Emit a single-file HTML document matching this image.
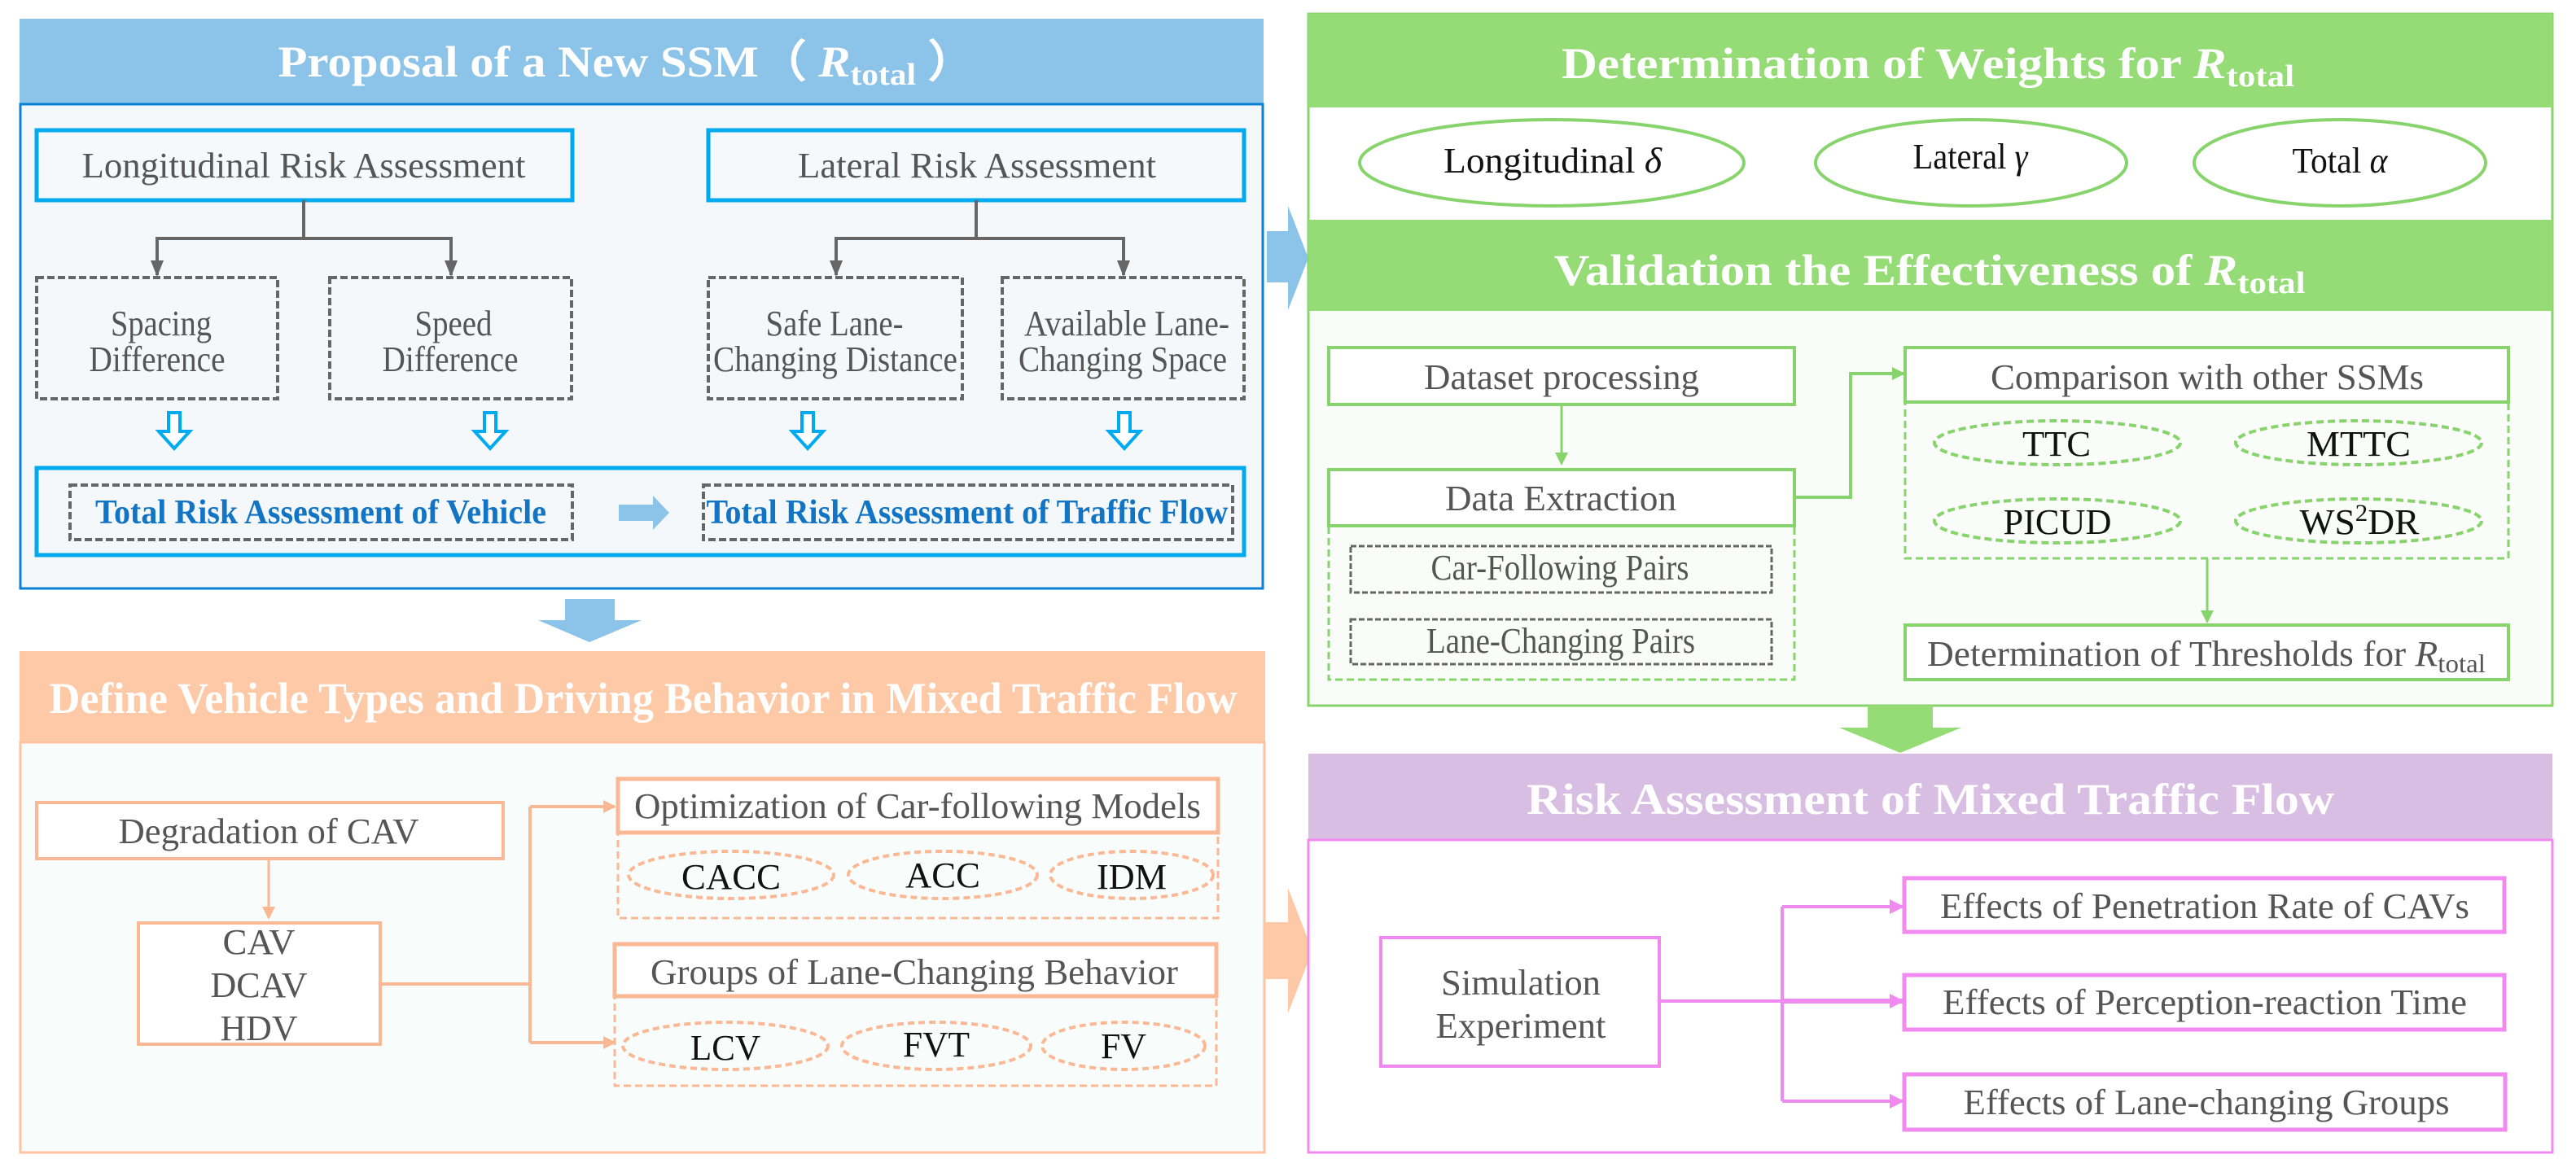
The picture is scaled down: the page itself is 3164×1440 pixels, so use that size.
<!DOCTYPE html>
<html><head><meta charset="utf-8"><style>
html,body{margin:0;padding:0;background:#fff;}
svg{display:block;}
text{font-family:"Liberation Serif",serif;}
.g{fill:#555;font-size:44px;}
.t{fill:#fff;font-size:54px;font-weight:bold;}
.k{fill:#111;font-size:44px;}
</style></head><body>
<svg width="3164" height="1440" viewBox="0 0 3164 1440" xmlns="http://www.w3.org/2000/svg">
<defs>
<marker id="ag" markerWidth="20" markerHeight="20" refX="18" refY="10" orient="auto" markerUnits="userSpaceOnUse"><path d="M0,2 L20,10 L0,18 z" fill="#666"/></marker>
<marker id="agr" markerWidth="16" markerHeight="16" refX="14" refY="8" orient="auto" markerUnits="userSpaceOnUse"><path d="M0,0 L16,8 L0,16 z" fill="#88d46c"/></marker>
<marker id="aor" markerWidth="16" markerHeight="16" refX="14" refY="8" orient="auto" markerUnits="userSpaceOnUse"><path d="M0,0 L16,8 L0,16 z" fill="#fbb895"/></marker>
<marker id="apu" markerWidth="18" markerHeight="18" refX="16" refY="9" orient="auto" markerUnits="userSpaceOnUse"><path d="M0,0 L18,9 L0,18 z" fill="#f08af0"/></marker>
</defs>

<rect x="24" y="23" width="1528" height="104" fill="#8cc3e8"/>
<text class="t" x="770" y="94" text-anchor="middle" textLength="857" lengthAdjust="spacingAndGlyphs">Proposal of a New SSM（ <tspan font-style="italic">R</tspan><tspan font-size="38" dy="10">total</tspan><tspan dy="-10"> ）</tspan></text>
<rect x="25" y="128" width="1526" height="595" fill="#f4f8fb" stroke="#0a82d4" stroke-width="3"/>
<rect x="45" y="160" width="658" height="86" fill="#f6f9fc" stroke="#00aaef" stroke-width="5"/>
<text class="g" x="373" y="218" text-anchor="middle" textLength="545" lengthAdjust="spacingAndGlyphs">Longitudinal Risk Assessment</text>
<rect x="870" y="160" width="658" height="86" fill="#f6f9fc" stroke="#00aaef" stroke-width="5"/>
<text class="g" x="1200" y="218" text-anchor="middle" textLength="440" lengthAdjust="spacingAndGlyphs">Lateral Risk Assessment</text>
<g stroke="#666" stroke-width="4" fill="none">
<path d="M373 246 V293 M191 293 H556 M1199 246 V293 M1025 293 H1382"/>
<path d="M193 293 V338" marker-end="url(#ag)"/><path d="M554 293 V338" marker-end="url(#ag)"/>
<path d="M1027 293 V338" marker-end="url(#ag)"/><path d="M1380 293 V338" marker-end="url(#ag)"/>
</g>
<g fill="none" stroke="#666" stroke-width="4" stroke-dasharray="9,4">
<rect x="45" y="341" width="296" height="149"/><rect x="405" y="341" width="297" height="149"/>
<rect x="870" y="341" width="312" height="149"/><rect x="1231" y="341" width="297" height="149"/>
<rect x="86" y="596" width="617" height="67"/><rect x="864" y="596" width="650" height="67"/>
</g>
<text class="g" x="198" y="412" text-anchor="middle" textLength="124" lengthAdjust="spacingAndGlyphs">Spacing</text>
<text class="g" x="193" y="456" text-anchor="middle" textLength="167" lengthAdjust="spacingAndGlyphs">Difference</text>
<text class="g" x="557" y="412" text-anchor="middle" textLength="95" lengthAdjust="spacingAndGlyphs">Speed</text>
<text class="g" x="553" y="456" text-anchor="middle" textLength="167" lengthAdjust="spacingAndGlyphs">Difference</text>
<text class="g" x="1025" y="412" text-anchor="middle" textLength="169" lengthAdjust="spacingAndGlyphs">Safe Lane-</text>
<text class="g" x="1026" y="456" text-anchor="middle" textLength="300" lengthAdjust="spacingAndGlyphs">Changing Distance</text>
<text class="g" x="1384" y="412" text-anchor="middle" textLength="252" lengthAdjust="spacingAndGlyphs">Available Lane-</text>
<text class="g" x="1379" y="456" text-anchor="middle" textLength="256" lengthAdjust="spacingAndGlyphs">Changing Space</text>
<g fill="#fff" stroke="#00aaef" stroke-width="4">
<path d="M207 507 H221 V530 H233 L214 551 L195 530 H207 Z"/>
<path d="M595 507 H609 V530 H621 L602 551 L583 530 H595 Z"/>
<path d="M985 507 H999 V530 H1011 L992 551 L973 530 H985 Z"/>
<path d="M1374 507 H1388 V530 H1400 L1381 551 L1362 530 H1374 Z"/>
</g>
<rect x="45" y="575" width="1483" height="107" fill="none" stroke="#00aaef" stroke-width="5"/>
<text x="394" y="643" text-anchor="middle" textLength="554" lengthAdjust="spacingAndGlyphs" font-size="42" font-weight="bold" fill="#1274c4">Total Risk Assessment of Vehicle</text>
<text x="1188" y="643" text-anchor="middle" textLength="641" lengthAdjust="spacingAndGlyphs" font-size="42" font-weight="bold" fill="#1274c4">Total Risk Assessment of Traffic Flow</text>
<path d="M760 620 H802 V609 L822 630 L802 651 V640 H760 Z" fill="#8cc3e8"/>
<path d="M694 736 H755 V762 H788 L724 789 L661 762 H694 Z" fill="#8cc3e8"/>
<path d="M1556 284 H1582 V253 L1607 317 L1582 381 V347 H1556 Z" fill="#8cc3e8"/>

<rect x="24" y="800" width="1530" height="112" fill="#fdc9a7"/>
<text class="t" x="790" y="876" text-anchor="middle" textLength="1459" lengthAdjust="spacingAndGlyphs">Define Vehicle Types and Driving Behavior in Mixed Traffic Flow</text>
<rect x="25" y="912" width="1528" height="504" fill="#f8fcfa" stroke="#fdc3a0" stroke-width="3"/>
<rect x="45" y="986" width="573" height="69" fill="#fff" stroke="#fbb895" stroke-width="4"/>
<text class="g" x="330" y="1036" text-anchor="middle" textLength="369" lengthAdjust="spacingAndGlyphs">Degradation of CAV</text>
<path d="M330 1055 V1128" stroke="#fbb895" stroke-width="3" fill="none" marker-end="url(#aor)"/>
<rect x="170" y="1134" width="297" height="149" fill="#fff" stroke="#fbb895" stroke-width="4"/>
<text class="g" x="318" y="1172" text-anchor="middle" textLength="89" lengthAdjust="spacingAndGlyphs">CAV</text>
<text class="g" x="318" y="1225" text-anchor="middle" textLength="119" lengthAdjust="spacingAndGlyphs">DCAV</text>
<text class="g" x="318" y="1278" text-anchor="middle" textLength="95" lengthAdjust="spacingAndGlyphs">HDV</text>
<g stroke="#fbb895" stroke-width="4" fill="none">
<path d="M467 1209 H651 M651 991 V1281"/>
<path d="M651 991 H755" marker-end="url(#aor)"/>
<path d="M651 1281 H755" marker-end="url(#aor)"/>
</g>
<rect x="759" y="957" width="737" height="66" fill="#fff" stroke="#fbb895" stroke-width="5"/>
<text class="g" x="1127" y="1005" text-anchor="middle" textLength="696" lengthAdjust="spacingAndGlyphs">Optimization of Car-following Models</text>
<rect x="759" y="1023" width="737" height="105" fill="none" stroke="#fbb895" stroke-width="3" stroke-dasharray="9,5"/>
<rect x="755" y="1160" width="739" height="64" fill="#fff" stroke="#fbb895" stroke-width="5"/>
<text class="g" x="1123" y="1209" text-anchor="middle" textLength="648" lengthAdjust="spacingAndGlyphs">Groups of Lane-Changing Behavior</text>
<rect x="755" y="1224" width="739" height="110" fill="none" stroke="#fbb895" stroke-width="3" stroke-dasharray="9,5"/>
<g fill="none" stroke="#fbb895" stroke-width="4" stroke-dasharray="8,5">
<ellipse cx="898" cy="1075" rx="126" ry="29"/><ellipse cx="1158" cy="1075" rx="116" ry="29"/><ellipse cx="1390" cy="1075" rx="100" ry="29"/>
<ellipse cx="891" cy="1285" rx="126" ry="29"/><ellipse cx="1150" cy="1285" rx="116" ry="29"/><ellipse cx="1380" cy="1285" rx="100" ry="29"/>
</g>
<text class="k" x="898" y="1092" text-anchor="middle" textLength="122" lengthAdjust="spacingAndGlyphs">CACC</text>
<text class="k" x="1158" y="1090" text-anchor="middle" textLength="92" lengthAdjust="spacingAndGlyphs">ACC</text>
<text class="k" x="1390" y="1092" text-anchor="middle" textLength="86" lengthAdjust="spacingAndGlyphs">IDM</text>
<text class="k" x="891" y="1302" text-anchor="middle" textLength="86" lengthAdjust="spacingAndGlyphs">LCV</text>
<text class="k" x="1150" y="1298" text-anchor="middle" textLength="82" lengthAdjust="spacingAndGlyphs">FVT</text>
<text class="k" x="1380" y="1300" text-anchor="middle" textLength="56" lengthAdjust="spacingAndGlyphs">FV</text>
<path d="M1553 1133 H1582 V1091 L1612 1168 L1582 1245 V1203 H1553 Z" fill="#fdc9a7"/>

<rect x="1607" y="17" width="1528" height="850" fill="#f9fcf8" stroke="#88d46c" stroke-width="3"/>
<rect x="1607" y="17" width="1528" height="115" fill="#95dc77"/>
<text class="t" x="2368" y="96" text-anchor="middle" textLength="900" lengthAdjust="spacingAndGlyphs">Determination of Weights for <tspan font-style="italic">R</tspan><tspan font-size="38" dy="10">total</tspan></text>
<rect x="1609" y="132" width="1524" height="138" fill="#fff"/>
<g fill="#fff" stroke="#88d46c" stroke-width="4">
<ellipse cx="1906" cy="200" rx="236" ry="53"/><ellipse cx="2421" cy="200" rx="191" ry="53"/><ellipse cx="2874" cy="200" rx="179" ry="53"/>
</g>
<text class="k" x="1907" y="212" text-anchor="middle" textLength="268" lengthAdjust="spacingAndGlyphs">Longitudinal <tspan font-style="italic">δ</tspan></text>
<text class="k" x="2420" y="207" text-anchor="middle" textLength="141" lengthAdjust="spacingAndGlyphs">Lateral <tspan font-style="italic">γ</tspan></text>
<text class="k" x="2874" y="212" text-anchor="middle" textLength="117" lengthAdjust="spacingAndGlyphs">Total <tspan font-style="italic">α</tspan></text>
<rect x="1607" y="270" width="1528" height="112" fill="#95dc77"/>
<text class="t" x="2370" y="350" text-anchor="middle" textLength="923" lengthAdjust="spacingAndGlyphs">Validation the Effectiveness of <tspan font-style="italic">R</tspan><tspan font-size="38" dy="10">total</tspan></text>
<rect x="1632" y="427" width="572" height="70" fill="#fff" stroke="#88d46c" stroke-width="4"/>
<text class="g" x="1918" y="478" text-anchor="middle" textLength="338" lengthAdjust="spacingAndGlyphs">Dataset processing</text>
<path d="M1918 497 V570" stroke="#88d46c" stroke-width="3" fill="none" marker-end="url(#agr)"/>
<rect x="1632" y="577" width="572" height="69" fill="#fff" stroke="#88d46c" stroke-width="4"/>
<text class="g" x="1917" y="627" text-anchor="middle" textLength="284" lengthAdjust="spacingAndGlyphs">Data Extraction</text>
<rect x="1632" y="646" width="572" height="189" fill="none" stroke="#88d46c" stroke-width="3" stroke-dasharray="9,5"/>
<g fill="none" stroke="#666" stroke-width="3" stroke-dasharray="7,3">
<rect x="1659" y="671" width="517" height="57"/><rect x="1659" y="761" width="517" height="55"/>
</g>
<text class="g" x="1916" y="712" text-anchor="middle" textLength="317" lengthAdjust="spacingAndGlyphs" font-size="38">Car-Following Pairs</text>
<text class="g" x="1917" y="802" text-anchor="middle" textLength="330" lengthAdjust="spacingAndGlyphs" font-size="38">Lane-Changing Pairs</text>
<path d="M2204 611 H2273 V459 H2338" stroke="#88d46c" stroke-width="4" fill="none" marker-end="url(#agr)"/>
<rect x="2340" y="427" width="741" height="67" fill="#fff" stroke="#88d46c" stroke-width="4"/>
<text class="g" x="2711" y="478" text-anchor="middle" textLength="532" lengthAdjust="spacingAndGlyphs">Comparison with other SSMs</text>
<rect x="2340" y="494" width="741" height="192" fill="none" stroke="#88d46c" stroke-width="3" stroke-dasharray="9,5"/>
<g fill="none" stroke="#88d46c" stroke-width="4" stroke-dasharray="9,5">
<ellipse cx="2527" cy="544" rx="151" ry="27"/><ellipse cx="2897" cy="544" rx="151" ry="27"/>
<ellipse cx="2527" cy="640" rx="151" ry="27"/><ellipse cx="2897" cy="640" rx="151" ry="27"/>
</g>
<text class="k" x="2526" y="560" text-anchor="middle" textLength="84" lengthAdjust="spacingAndGlyphs">TTC</text>
<text class="k" x="2897" y="560" text-anchor="middle" textLength="128" lengthAdjust="spacingAndGlyphs">MTTC</text>
<text class="k" x="2527" y="656" text-anchor="middle" textLength="133" lengthAdjust="spacingAndGlyphs">PICUD</text>
<text class="k" x="2898" y="656" text-anchor="middle" textLength="147" lengthAdjust="spacingAndGlyphs">WS<tspan font-size="30" dy="-16">2</tspan><tspan dy="16">DR</tspan></text>
<path d="M2711 686 V764" stroke="#88d46c" stroke-width="3" fill="none" marker-end="url(#agr)"/>
<rect x="2340" y="768" width="741" height="67" fill="#fff" stroke="#88d46c" stroke-width="4"/>
<text class="g" x="2710" y="818" text-anchor="middle" textLength="686" lengthAdjust="spacingAndGlyphs">Determination of Thresholds for <tspan font-style="italic">R</tspan><tspan font-size="32" dy="8">total</tspan></text>
<path d="M2294 867 H2374 V894 H2409 L2334 925 L2259 894 H2294 Z" fill="#95dc77"/>

<rect x="1607" y="926" width="1528" height="106" fill="#d8bee2"/>
<text class="t" x="2371" y="1000" text-anchor="middle" textLength="992" lengthAdjust="spacingAndGlyphs">Risk Assessment of Mixed Traffic Flow</text>
<rect x="1607" y="1032" width="1528" height="384" fill="#fff" stroke="#f08af0" stroke-width="3"/>
<rect x="1696" y="1152" width="342" height="158" fill="#fff" stroke="#f08af0" stroke-width="4"/>
<text class="g" x="1868" y="1222" text-anchor="middle" textLength="196" lengthAdjust="spacingAndGlyphs">Simulation</text>
<text class="g" x="1868" y="1275" text-anchor="middle" textLength="209" lengthAdjust="spacingAndGlyphs">Experiment</text>
<g stroke="#f08af0" stroke-width="4" fill="none">
<path d="M2038 1230 H2189 M2189 1114 V1353"/>
<path d="M2189 1230 H2337" stroke-width="6" marker-end="url(#apu)"/>
<path d="M2189 1114 H2337" marker-end="url(#apu)"/>
<path d="M2189 1353 H2337" marker-end="url(#apu)"/>
</g>
<g fill="#fff" stroke="#f08af0" stroke-width="5">
<rect x="2339" y="1079" width="737" height="66"/><rect x="2339" y="1198" width="737" height="67"/><rect x="2339" y="1320" width="738" height="68"/>
</g>
<text class="g" x="2708" y="1128" text-anchor="middle" textLength="650" lengthAdjust="spacingAndGlyphs">Effects of Penetration Rate of CAVs</text>
<text class="g" x="2708" y="1246" text-anchor="middle" textLength="644" lengthAdjust="spacingAndGlyphs">Effects of Perception-reaction Time</text>
<text class="g" x="2710" y="1369" text-anchor="middle" textLength="597" lengthAdjust="spacingAndGlyphs">Effects of Lane-changing Groups</text>
</svg>
</body></html>
